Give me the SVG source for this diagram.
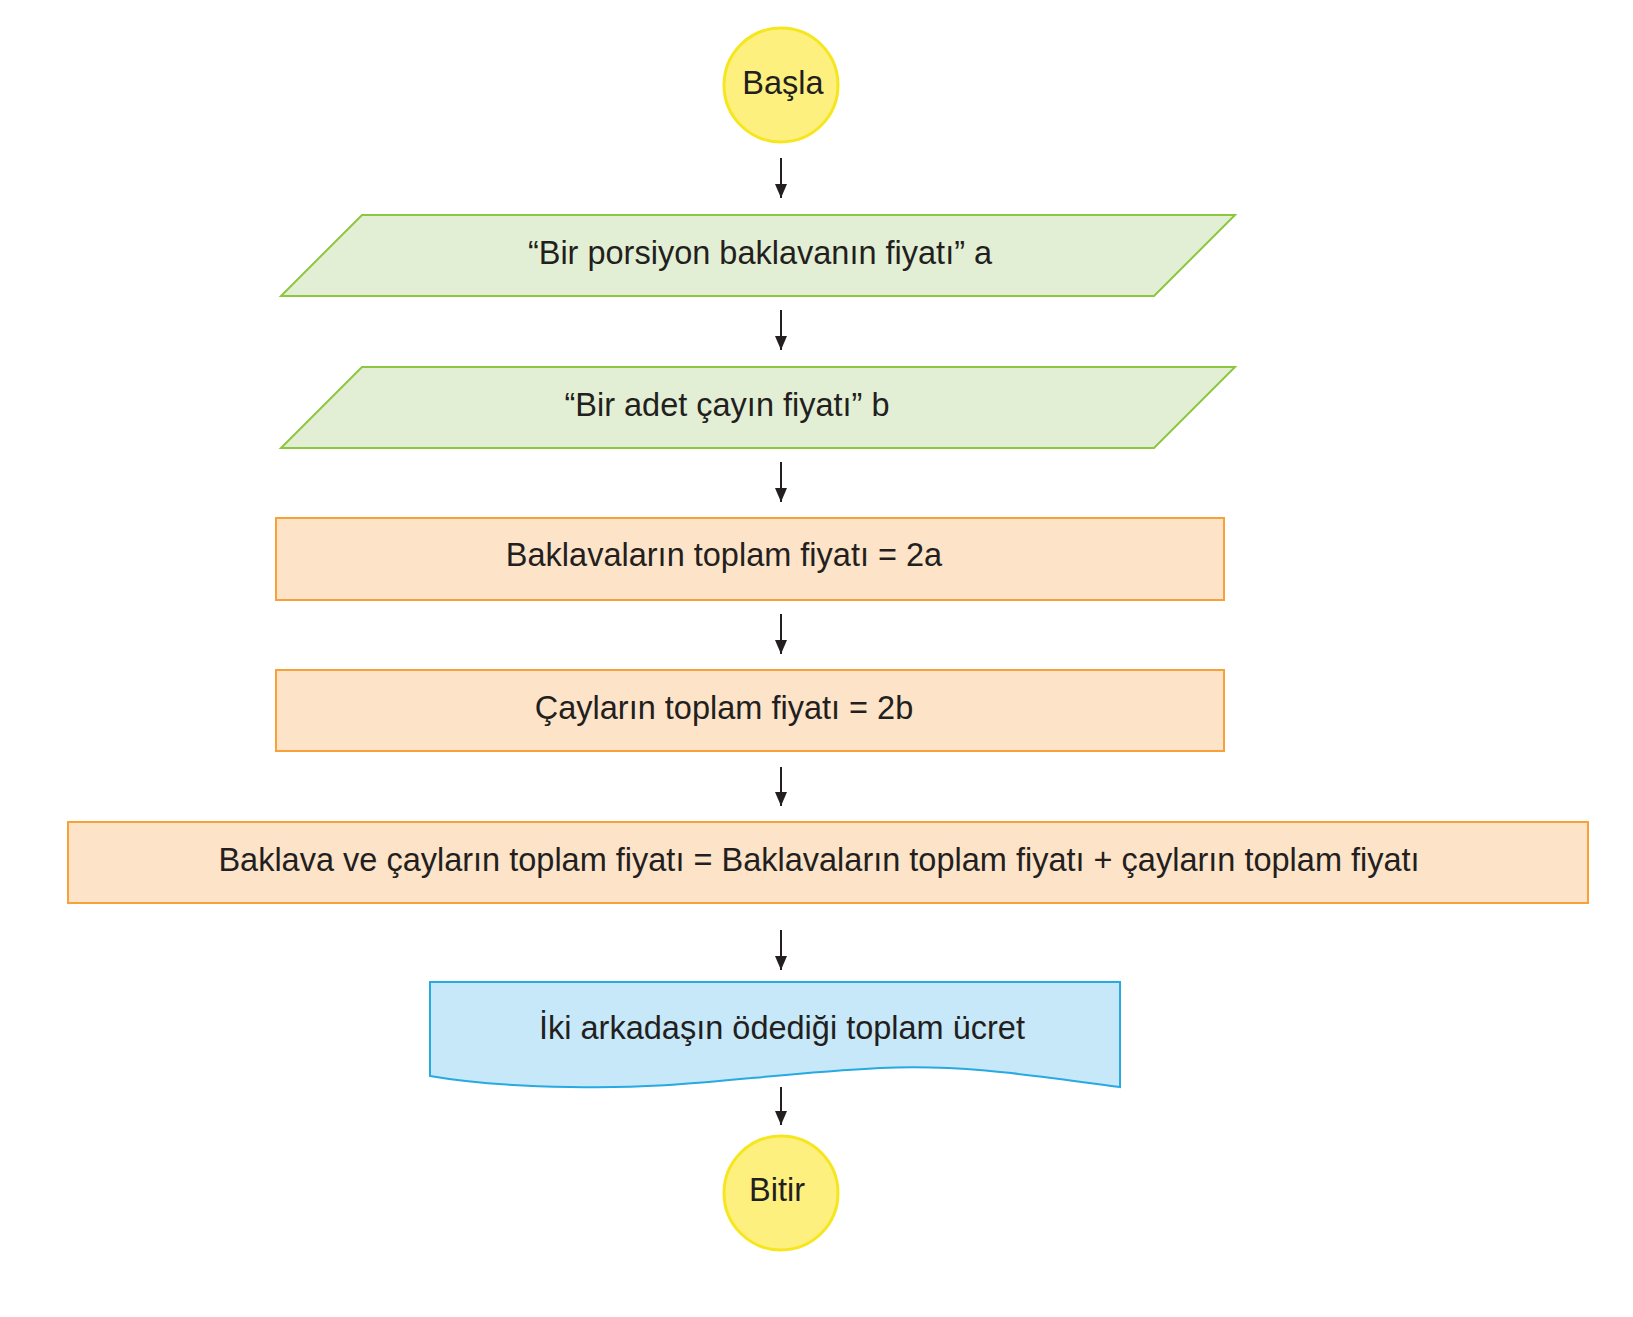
<svg xmlns="http://www.w3.org/2000/svg" width="1633" height="1317" viewBox="0 0 1633 1317">
<style>
text{font-family:"Liberation Sans",Arial,sans-serif;font-size:32.5px;fill:#231f20;text-anchor:middle;dominant-baseline:central}
.term{fill:#fdf07e;stroke:#f6e61e;stroke-width:3}
.io{fill:#e3efd4;stroke:#8dc63f;stroke-width:2}
.proc{fill:#fde3c8;stroke:#f7a138;stroke-width:2}
.doc{fill:#c7e8f8;stroke:#27a9e1;stroke-width:2}
.conn{stroke:#231f20;stroke-width:2;fill:none;marker-end:url(#ah)}
</style>
<defs>
<marker id="ah" viewBox="0 0 14 12" refX="14" refY="6" markerWidth="14" markerHeight="12" markerUnits="userSpaceOnUse" orient="auto">
<path d="M0,0 L14,6 L0,12 z" fill="#231f20"/>
</marker>
</defs>
<rect width="1633" height="1317" fill="#ffffff"/>
<g id="connectors">
<line class="conn" x1="781" y1="158" x2="781" y2="198"/>
<line class="conn" x1="781" y1="310" x2="781" y2="350"/>
<line class="conn" x1="781" y1="462" x2="781" y2="502"/>
<line class="conn" x1="781" y1="614" x2="781" y2="654"/>
<line class="conn" x1="781" y1="767" x2="781" y2="806"/>
<line class="conn" x1="781" y1="930" x2="781" y2="970"/>
<line class="conn" x1="781" y1="1087" x2="781" y2="1125"/>
</g>
<g id="start">
<circle class="term" cx="781" cy="85" r="57"/>
<text x="783" y="83">Başla</text>
</g>
<g id="input-a">
<polygon class="io" points="362,215 1235,215 1154,296 281,296"/>
<text x="760" y="253">“Bir porsiyon baklavanın fiyatı” a</text>
</g>
<g id="input-b">
<polygon class="io" points="362,367 1235,367 1154,448 281,448"/>
<text x="727" y="405">“Bir adet çayın fiyatı” b</text>
</g>
<g id="proc-baklava">
<rect class="proc" x="276" y="518" width="948" height="82"/>
<text x="724" y="555">Baklavaların toplam fiyatı = 2a</text>
</g>
<g id="proc-cay">
<rect class="proc" x="276" y="670" width="948" height="81"/>
<text x="724" y="708">Çayların toplam fiyatı = 2b</text>
</g>
<g id="proc-total">
<rect class="proc" x="68" y="822" width="1520" height="81"/>
<text x="819" y="860">Baklava ve çayların toplam fiyatı = Baklavaların toplam fiyatı + çayların toplam fiyatı</text>
</g>
<g id="output">
<path class="doc" d="M430,982 L1120,982 L1120,1087 C1030,1075 960,1064 880,1068 C760,1074 680,1090 570,1087 C510,1086 470,1083 430,1076 Z"/>
<text x="782" y="1028">İki arkadaşın ödediği toplam ücret</text>
</g>
<g id="end">
<circle class="term" cx="781" cy="1193" r="57"/>
<text x="777" y="1190">Bitir</text>
</g>
</svg>
